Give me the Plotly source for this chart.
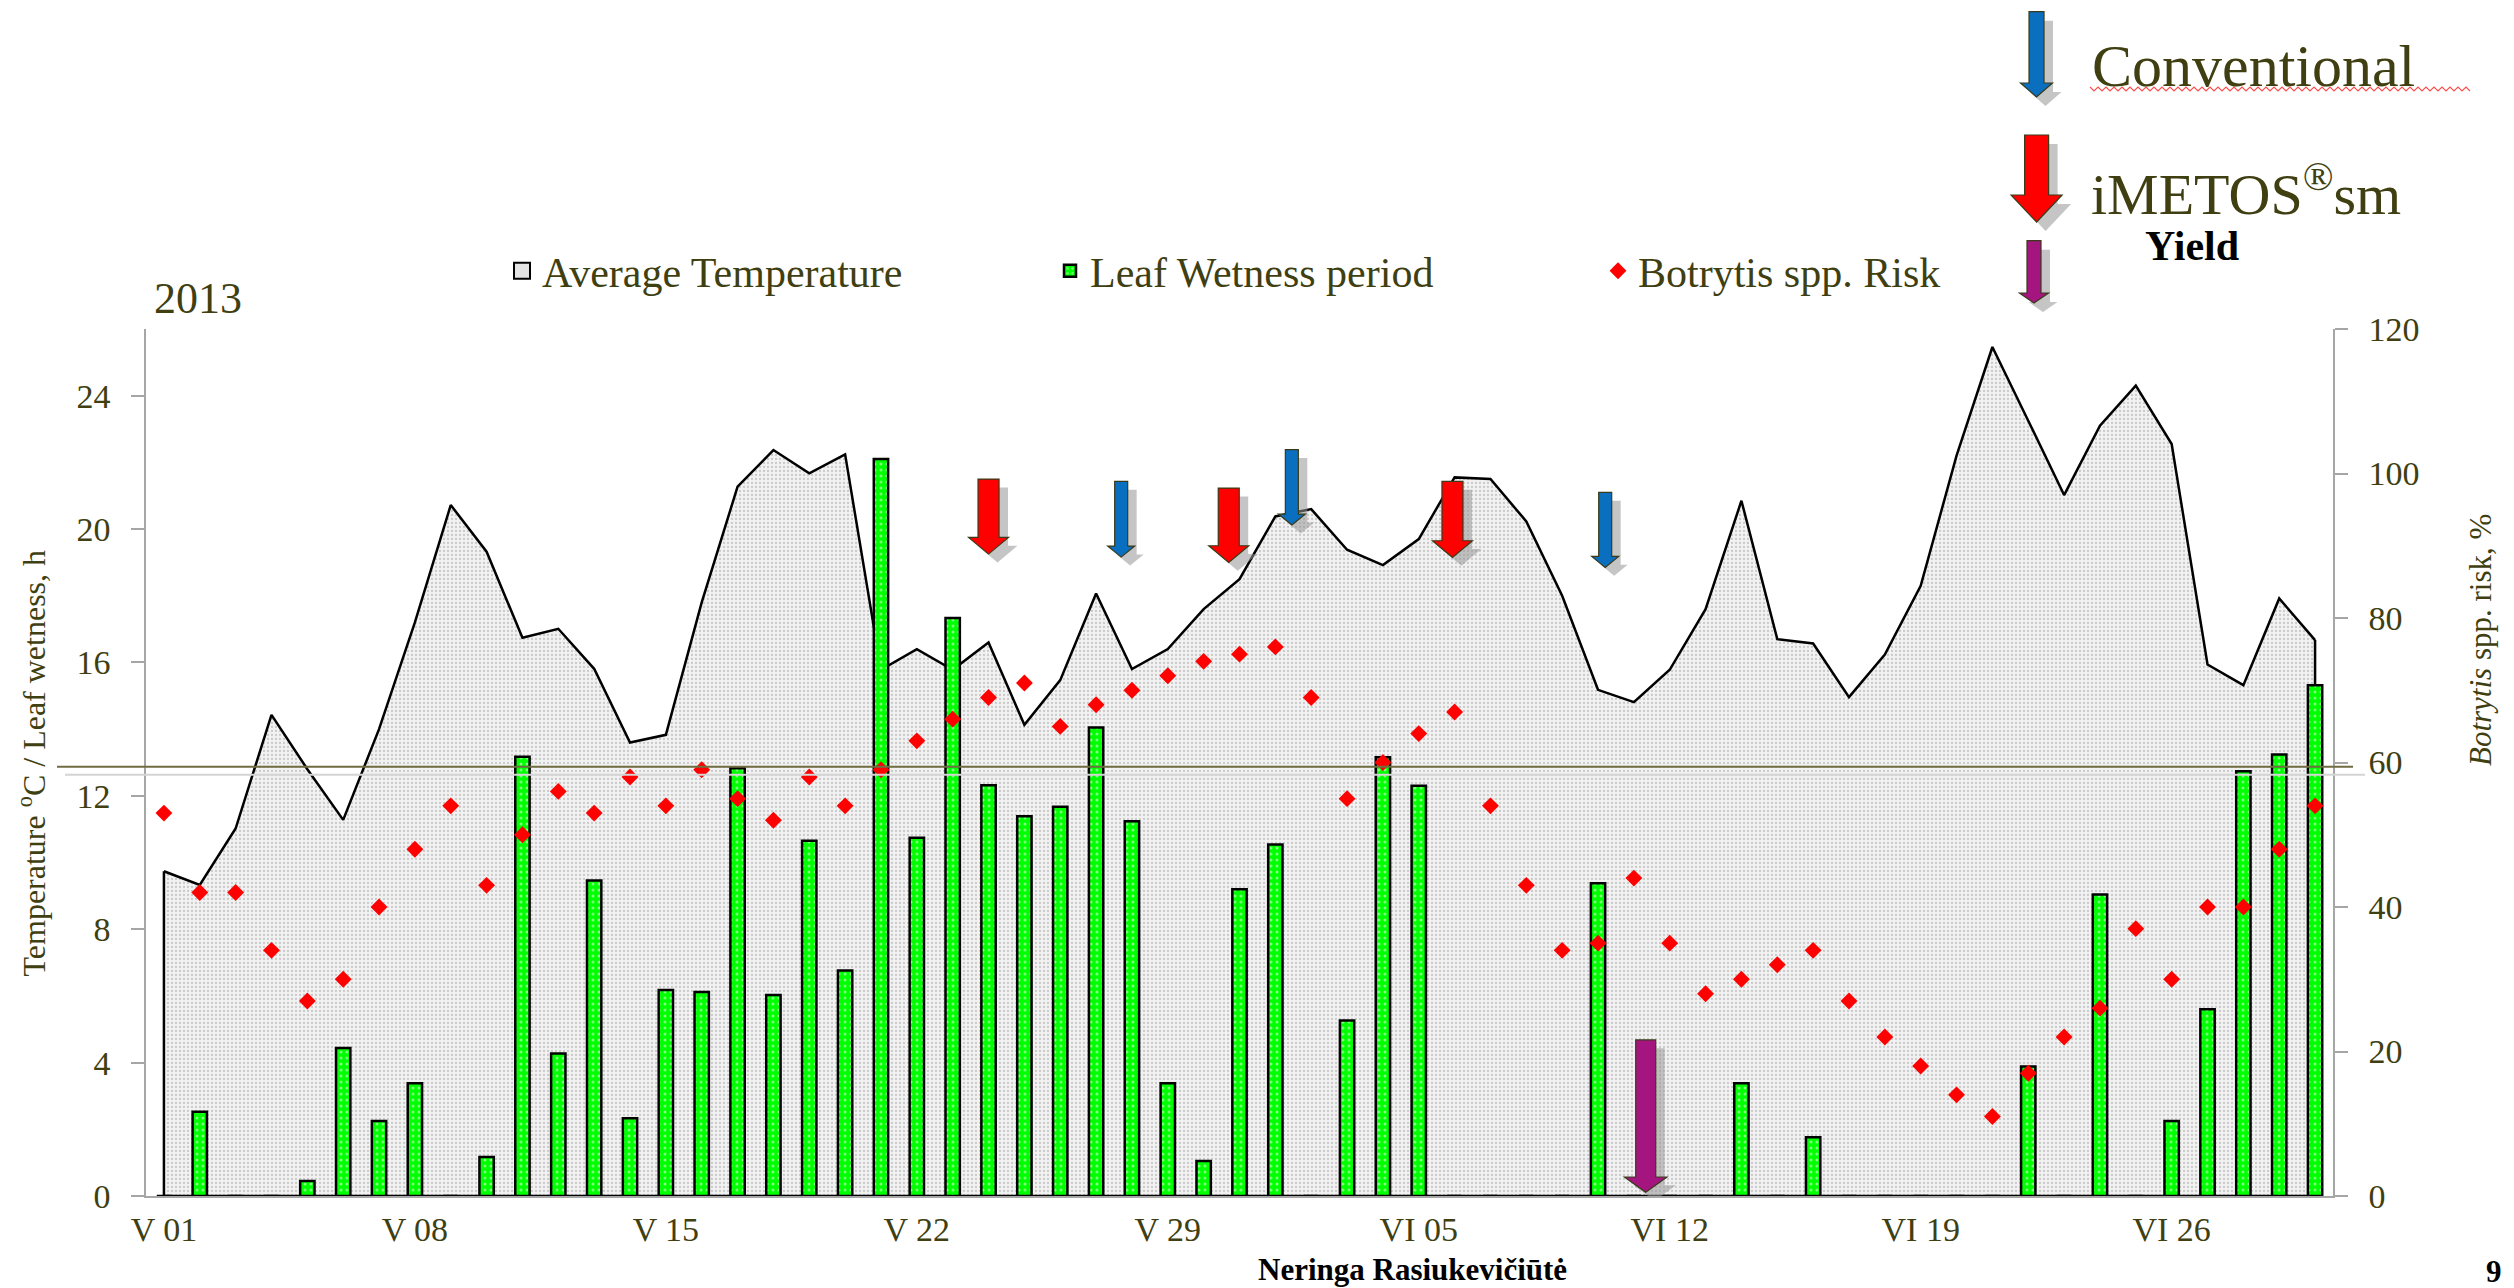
import plotly.graph_objects as go

W, H = 2514, 1288
M_L, M_R, M_T, M_B = 146, 181, 329, 92
PLOT_W = W - M_L - M_R
PLOT_H = H - M_T - M_B

OLIVE = "#3f3f12"
SERIF = "Liberation Serif, Times New Roman, serif"

DAYS = [
    "V 01", "V 02", "V 03", "V 04", "V 05", "V 06", "V 07", "V 08", "V 09", "V 10",
    "V 11", "V 12", "V 13", "V 14", "V 15", "V 16", "V 17", "V 18", "V 19", "V 20",
    "V 21", "V 22", "V 23", "V 24", "V 25", "V 26", "V 27", "V 28", "V 29", "V 30",
    "V 31", "VI 01", "VI 02", "VI 03", "VI 04", "VI 05", "VI 06", "VI 07", "VI 08",
    "VI 09", "VI 10", "VI 11", "VI 12", "VI 13", "VI 14", "VI 15", "VI 16", "VI 17",
    "VI 18", "VI 19", "VI 20", "VI 21", "VI 22", "VI 23", "VI 24", "VI 25", "VI 26",
    "VI 27", "VI 28", "VI 29", "VI 30",
]
TICK_DAYS = ["V 01", "V 08", "V 15", "V 22", "V 29", "VI 05", "VI 12", "VI 19", "VI 26"]

AVG_TEMP = [
    9.74, 9.33, 11.02, 14.43, 12.8, 11.28, 14.0, 17.2, 20.72, 19.32,
    16.74, 17.01, 15.81, 13.6, 13.83, 17.8, 21.27, 22.37, 21.67, 22.24,
    15.78, 16.4, 15.78, 16.6, 14.13, 15.47, 18.07, 15.8, 16.4, 17.6,
    18.5, 20.38, 20.6, 19.38, 18.92, 19.7, 21.55, 21.5, 20.23, 18.0,
    15.18, 14.81, 15.78, 17.6, 20.85, 16.7, 16.57, 14.96, 16.24, 18.3,
    22.2, 25.46, 23.25, 21.02, 23.1, 24.3, 22.55, 15.94, 15.32, 17.92, 16.67,
]
LEAF_WETNESS = [
    0, 2.53, 0, 0, 0.45, 4.44, 2.25, 3.38, 0, 1.17,
    13.17, 4.27, 9.46, 2.33, 6.18, 6.12, 12.83, 6.03, 10.65, 6.76,
    22.1, 10.74, 17.33, 12.32, 11.39, 11.67, 14.05, 11.24, 3.38, 1.05,
    9.2, 10.54, 0, 5.26, 13.16, 12.3, 0, 0, 0, 0,
    9.38, 0, 0, 0, 3.38, 0, 1.76, 0, 0, 0,
    0, 0, 3.88, 0, 9.04, 0, 2.25, 5.6, 12.74, 13.24, 15.32,
]
BOTRYTIS_RISK = [
    53, 42, 42, 34, 27, 30, 40, 48, 54, 43,
    50, 56, 53, 58, 54, 59, 55, 52, 58, 54,
    59, 63, 66, 69, 71, 65, 68, 70, 72, 74,
    75, 76, 69, 55, 60, 64, 67, 54, 43, 34,
    35, 44, 35, 28, 30, 32, 34, 27, 22, 18,
    14, 11, 17, 22, 26, 37, 30, 40, 40, 48, 54,
]
RISK_LINE = 59.4

# treatment arrows: (position on the day axis, arrow top, arrow tip) in temperature units
CONVENTIONAL = [(26.7, 21.43, 19.16), (31.46, 22.38, 20.12), (40.2, 21.1, 18.85)]
IMETOS = [(23.0, 21.5, 19.25), (29.7, 21.23, 19.0), (35.94, 21.43, 19.15)]
HARVEST = [(41.33, 4.68, 0.11)]

BLUE, RED, PURPLE = "#0a6fbf", "#ff0000", "#a51580"
SHADOW = "rgba(150,150,150,0.55)"


def px_x(v):
    return (v - M_L) / PLOT_W


def px_y(v):
    return (H - M_B - v) / PLOT_H


def arrow_pts(xc, top, base, tip, shaft, head):
    s, h = shaft / 2, head / 2
    return [(xc - s, top), (xc + s, top), (xc + s, base), (xc + h, base),
            (xc, tip), (xc - h, base), (xc - s, base)]


def to_path(pts, fx=lambda v: v, fy=lambda v: v):
    return "M" + " L".join(f"{fx(x):.5f},{fy(y):.5f}" for x, y in pts) + " Z"


def add_arrow(fig, pts, shadow, color, xref, yref, fx=lambda v: v, fy=lambda v: v):
    fig.add_shape(type="path", path=to_path(shadow, fx, fy), xref=xref, yref=yref,
                  fillcolor=SHADOW, line_width=0)
    fig.add_shape(type="path", path=to_path(pts, fx, fy), xref=xref, yref=yref,
                  fillcolor=color, line=dict(color="#3a3a1a", width=1.2))


fig = go.Figure()

fig.add_trace(go.Scatter(
    x=DAYS, y=AVG_TEMP, mode="lines", line=dict(color="black", width=2.5),
    fill="tozeroy", fillcolor="#f0f0f0",
    fillpattern=dict(shape=".", fgcolor="#a0a0a0", bgcolor="#f2f2f2", size=4, solidity=0.25),
    showlegend=False, hoverinfo="skip",
))
# area outline closing at both ends and along the bottom
fig.add_trace(go.Scatter(
    x=[DAYS[0], DAYS[0], DAYS[-1], DAYS[-1]], y=[AVG_TEMP[0], 0, 0, AVG_TEMP[-1]],
    mode="lines", line=dict(color="black", width=2.5), showlegend=False, hoverinfo="skip",
))
# legend entry for the area
fig.add_trace(go.Scatter(
    x=[None], y=[None], mode="markers", name="Average Temperature",
    marker=dict(symbol="square", size=16, color="#e4e4e4", line=dict(color="black", width=2)),
))
# bars sit on their own overlay axis so they are drawn above the area
fig.add_trace(go.Bar(
    x=DAYS, y=LEAF_WETNESS, width=0.4, name="Leaf Wetness period", yaxis="y2",
    marker=dict(color="#00ff00", line=dict(color="black", width=2.5),
                pattern=dict(shape=".", fgcolor="white", size=6, solidity=0.2, fillmode="overlay")),
))
fig.add_trace(go.Scatter(
    x=DAYS, y=BOTRYTIS_RISK, yaxis="y3", mode="markers", name="Botrytis spp. Risk",
    marker=dict(symbol="diamond", size=13, color="#ff0000", line=dict(width=0)),
))

# threshold lines
fig.add_shape(type="line", xref="paper", yref="y3", x0=px_x(65), x1=px_x(2365),
              y0=RISK_LINE - 1.1, y1=RISK_LINE - 1.1, line=dict(color="#d4d4d4", width=2))
fig.add_shape(type="line", xref="paper", yref="y3", x0=px_x(57), x1=px_x(2353),
              y0=RISK_LINE, y1=RISK_LINE, line=dict(color="#6e6e40", width=2))

# treatment arrows inside the plot (x in day index, y in temperature units)
for pos, top, tip in CONVENTIONAL:
    p = arrow_pts(pos, top, tip + 0.33, tip, 0.363, 0.753)
    sh = [(x + 0.25, y - 0.25) for x, y in p]
    add_arrow(fig, p, sh, BLUE, "x", "y")
for pos, top, tip in IMETOS:
    p = arrow_pts(pos, top, tip + 0.5, tip, 0.586, 1.116)
    sh = [(x + 0.25, y - 0.25) for x, y in p]
    add_arrow(fig, p, sh, RED, "x", "y")
for pos, top, tip in HARVEST:
    p = arrow_pts(pos, top, tip + 0.46, tip, 0.558, 1.186)
    sh = [(x + 0.25, y - 0.25) for x, y in p]
    add_arrow(fig, p, sh, PURPLE, "x", "y")

# key arrows at the top right (pixel geometry)
for color, geo in [(BLUE, (2036.5, 11.7, 83, 97, 15, 32)),
                   (RED, (2036.6, 135, 195, 222, 24, 51)),
                   (PURPLE, (2034, 240.7, 293, 303, 14, 29))]:
    p = arrow_pts(*geo)
    sh = [(x + 9, y + 9) for x, y in p]
    add_arrow(fig, p, sh, color, "paper", "paper", px_x, px_y)

# spell-check squiggle under "Conventional"
zig = [(2090 + 4 * k, 89 + (2 if k % 2 else -2)) for k in range(96)]
fig.add_shape(type="path", xref="paper", yref="paper",
              path="M" + " L".join(f"{px_x(x):.5f},{px_y(y):.5f}" for x, y in zig),
              line=dict(color="#ff5050", width=1.2))

notes = [
    dict(text="Conventional", x=2090, y=66, size=60, color=OLIVE, anchor="left"),
    dict(text="iMETOS<sup>®</sup>sm", x=2089, y=190, size=58, color=OLIVE, anchor="left"),
    dict(text="<b>Yield</b>", x=2192, y=246, size=42, color="black", anchor="center"),
    dict(text="2013", x=198, y=299, size=44, color=OLIVE, anchor="center"),
    dict(text="<b>Neringa Rasiukevičiūtė</b>", x=1412, y=1269, size=31, color="black", anchor="center"),
    dict(text="<b>9</b>", x=2494, y=1271, size=31, color="black", anchor="center"),
]
for n in notes:
    fig.add_annotation(text=n["text"], x=px_x(n["x"]), y=px_y(n["y"]), xref="paper", yref="paper",
                       xanchor=n["anchor"], yanchor="middle", showarrow=False,
                       font=dict(family=SERIF, size=n["size"], color=n["color"]))

fig.add_annotation(text="Temperature <sup>o</sup>C / Leaf wetness, h", textangle=-90,
                   x=px_x(31.5), y=px_y(763), xref="paper", yref="paper", showarrow=False,
                   xanchor="center", yanchor="middle",
                   font=dict(family=SERIF, size=32, color=OLIVE))
fig.add_annotation(text="<i>Botrytis</i> spp. risk, %", textangle=-90,
                   x=px_x(2480), y=px_y(640), xref="paper", yref="paper", showarrow=False,
                   xanchor="center", yanchor="middle",
                   font=dict(family=SERIF, size=31, color=OLIVE))

axis_style = dict(showline=True, linecolor="#a6a6a6", linewidth=1.5, ticks="outside",
                  ticklen=13, tickwidth=1.5, tickcolor="#a6a6a6", showgrid=False,
                  zeroline=False, tickfont=dict(family=SERIF, size=34, color=OLIVE))

fig.update_layout(
    width=W, height=H, margin=dict(l=M_L, r=M_R, t=M_T, b=M_B),
    paper_bgcolor="white", plot_bgcolor="rgba(0,0,0,0)",
    font=dict(family=SERIF, color=OLIVE),
    xaxis=dict(type="category", categoryorder="array", categoryarray=DAYS,
               range=[-0.5, len(DAYS) - 0.5], tickvals=TICK_DAYS, showline=True,
               linecolor="#a6a6a6", linewidth=1.5, ticks="", showgrid=False,
               ticklabelstandoff=2, tickfont=dict(family=SERIF, size=34, color=OLIVE)),
    yaxis=dict(range=[0, 26], tick0=0, dtick=4, ticklabelstandoff=14, **axis_style),
    yaxis2=dict(range=[0, 26], overlaying="y", visible=False),
    yaxis3=dict(range=[0, 120], tick0=0, dtick=20, overlaying="y", side="right",
                ticklabelstandoff=14, **axis_style),
    legend=dict(orientation="h", x=px_x(502), xanchor="left", y=px_y(271), yanchor="middle",
                font=dict(family=SERIF, size=42, color=OLIVE), entrywidth=503,
                bgcolor="rgba(0,0,0,0)", itemsizing="trace"),
    barmode="overlay", showlegend=True,
)

fig.write_html("out.html", config={"displayModeBar": False},
               post_script="document.body.style.margin='0';")
